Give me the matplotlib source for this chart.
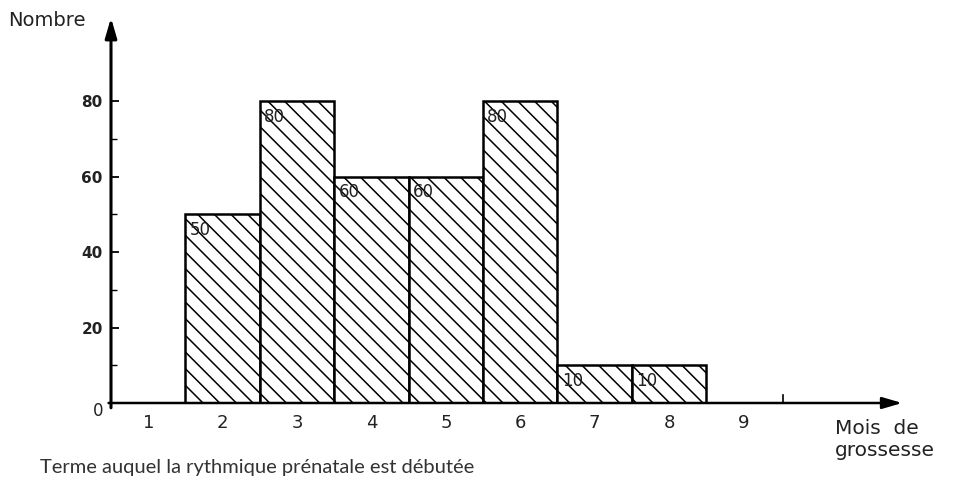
import matplotlib
matplotlib.use("Agg")
import matplotlib.pyplot as plt

# data
mois = [2, 3, 4, 5, 6, 7, 8]
nombre = [50, 80, 60, 60, 80, 10, 10]
etiquettes = ["50", "80", "60", "60", "80", "10", "10"]
mois_ticks = [1, 2, 3, 4, 5, 6, 7, 8, 9]
y_ticks = [20, 40, 60, 80]
y_minor = [10, 30, 50, 70]

plt.rcParams["hatch.linewidth"] = 1.1

fig = plt.figure(figsize=(9.66, 4.84), dpi=100)
ax = fig.add_axes([111 / 966, 81 / 484, 794 / 966, 388 / 484])
ax.set_xlim(0.5, 11.17)
ax.set_ylim(0, 102.8)

# bars
ax.bar(mois, nombre, width=1.0, color="white", edgecolor="black",
       linewidth=1.8, hatch="\\\\", zorder=2)
for m, v, t in zip(mois, nombre, etiquettes):
    ax.annotate(t, (m - 0.5, v), xytext=(3, -5), textcoords="offset points",
                ha="left", va="top", fontsize=12, color="#222222", zorder=3)

# axes as arrows
for s in ["top", "right", "bottom", "left"]:
    ax.spines[s].set_visible(False)
ax.annotate("", xy=(11.17, 0), xytext=(0.43, 0),
            arrowprops=dict(arrowstyle="-|>,head_length=1.2,head_width=0.35",
                            color="black", lw=1.8), annotation_clip=False)
ax.annotate("", xy=(0.5, 102.8), xytext=(0.5, -2),
            arrowprops=dict(arrowstyle="-|>,head_length=1.2,head_width=0.35",
                            color="black", lw=2.2), annotation_clip=False)

# ticks
ax.set_yticks(y_ticks)
ax.set_yticklabels([str(v) for v in y_ticks], fontsize=11, fontweight="bold",
                   color="#222222")
ax.set_yticks(y_minor, minor=True)
ax.tick_params(axis="y", which="major", direction="in", length=6, width=1.3, pad=6)
ax.tick_params(axis="y", which="minor", direction="in", length=4, width=1.0)
ax.set_xticks(mois_ticks)
ax.set_xticklabels([str(m) for m in mois_ticks], fontsize=13, color="#222222")
ax.tick_params(axis="x", which="major", length=0, pad=8)
ax.axvline(9.53, ymin=0, ymax=0.02, color="black", lw=1.2)

ax.text(0.4, -2, "0", ha="right", va="center", fontsize=12, color="#222222")

fig.text(8 / 966, 1 - 20 / 484, "Nombre", ha="left", va="center",
         fontsize=14, color="#222222")
fig.text(835 / 966, 1 - 428 / 484, "Mois  de", ha="left", va="center",
         fontsize=14.5, color="#222222")
fig.text(835 / 966, 1 - 451 / 484, "grossesse", ha="left", va="center",
         fontsize=14.5, color="#222222")
fig.text(40 / 966, 1 - 468 / 484, "Terme auquel la rythmique prénatale est débutée",
         ha="left", va="center", fontsize=14.5, color="#333333", family="Lato")

fig.savefig("out.png", dpi=100)
